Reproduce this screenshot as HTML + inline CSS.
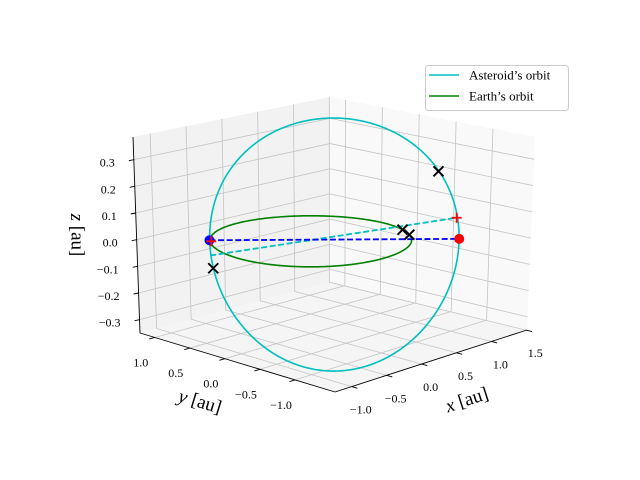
<!DOCTYPE html>
<html><head><meta charset="utf-8">
<style>
html,body{margin:0;padding:0;background:#fff;}
svg{display:block;font-family:"Liberation Serif",serif;}
text{font-family:"Liberation Serif",serif;}
</style></head>
<body>
<svg id="chart" width="640" height="480" viewBox="0 0 640 480" xmlns="http://www.w3.org/2000/svg">
<g id="panes"></g>
<g id="grid"></g>
<g id="axes"></g>
<g id="series"></g>
<g id="legend">
  <rect x="425.5" y="65.5" width="143" height="45" rx="3" fill="#fff" fill-opacity="0.8" stroke="#cccccc" stroke-width="1"/>
  <line x1="429" y1="75" x2="459" y2="75" stroke="#00bfbf" stroke-width="1.6"/>
  <text x="469" y="79.5" font-size="13">Asteroid’s orbit</text>
  <line x1="429" y1="96" x2="459" y2="96" stroke="#008000" stroke-width="1.6"/>
  <text x="469" y="100.5" font-size="13">Earth’s orbit</text>
</g>
</svg>
<script>
// ---- data ----
const xTicks = [-1.0, -0.5, 0.0, 0.5, 1.0, 1.5];
const yTicks = [-1.0, -0.5, 0.0, 0.5, 1.0];
const zTicks = [-0.3, -0.2, -0.1, 0.0, 0.1, 0.2, 0.3];
const xTickLabels = ["−1.0", "−0.5", "0.0", "0.5", "1.0", "1.5"];
const yTickLabels = ["−1.0", "−0.5", "0.0", "0.5", "1.0"];
const zTickLabels = ["−0.3", "−0.2", "−0.1", "0.0", "0.1", "0.2", "0.3"];
const xLim = [-1.24, 1.51];
const yLim = [-1.57, 1.21];
const zLim = [-0.35, 0.385];
const earthOrbit = [1.0];                  // radius (au)
const asteroidOrbit = [1.237, 0.188, 17.5]; // a (au), e, inclination (deg)
const asteroidPeriDir = [-0.7071, 0.7071];
const crossX = [1.347, 0.932, 0.835, -0.870];
const crossY = [-0.435, -0.360, -0.550, 0.510];
const crossZ = [0.200, 0.0, 0.0, -0.080];
const plusX = [1.165, -0.700];
const plusY = [-0.876, 0.700];
const plusZ = [0.061, -0.004];
const blueDot = [-0.712, 0.712, 0.0];
const redDot = [1.040, -1.040, 0.0];
const cyanDashStart = [-0.800, 0.620, -0.045];
const cyanDashEnd = [1.165, -0.876, 0.061];

// ---- projection (trilinear box mapping) ----
const C = {
  "000":[335,392],"100":[527,330],"010":[140,333],"110":[330,282],
  "001":[336,186],"101":[535,137],"011":[133,137],"111":[330,97]
};
function lerp(a,b,t){return [a[0]+(b[0]-a[0])*t,a[1]+(b[1]-a[1])*t];}
function P(x,y,z){
  const fx=(x-xLim[0])/(xLim[1]-xLim[0]);
  const fy=(y-yLim[0])/(yLim[1]-yLim[0]);
  const fz=(z-zLim[0])/(zLim[1]-zLim[0]);
  const b=lerp(lerp(C["000"],C["100"],fx),lerp(C["010"],C["110"],fx),fy);
  const t=lerp(lerp(C["001"],C["101"],fx),lerp(C["011"],C["111"],fx),fy);
  return lerp(b,t,fz);
}
const NS="http://www.w3.org/2000/svg";
function mk(parent,tag,attrs){const e=document.createElementNS(NS,tag);for(const k in attrs)e.setAttribute(k,attrs[k]);parent.appendChild(e);return e;}
function pts(list){return list.map(p=>p[0].toFixed(2)+","+p[1].toFixed(2)).join(" ");}

const panes=document.getElementById("panes");
const grid=document.getElementById("grid");
const axes=document.getElementById("axes");
const series=document.getElementById("series");
const [x0,x1]=xLim,[y0,y1]=yLim,[z0,z1]=zLim;

let e;
e=mk(panes,"polygon",{points:pts([P(x0,y1,z0),P(x1,y1,z0),P(x1,y1,z1),P(x0,y1,z1)]),fill:"#f2f2f2"});


e=mk(panes,"polygon",{points:pts([P(x1,y0,z0),P(x1,y1,z0),P(x1,y1,z1),P(x1,y0,z1)]),fill:"#f9f9f9"});


e=mk(panes,"polygon",{points:pts([P(x0,y0,z0),P(x1,y0,z0),P(x1,y1,z0),P(x0,y1,z0)]),fill:"#f5f5f5"});



function gl(a,b,name){
  const l=mk(grid,"line",{x1:a[0],y1:a[1],x2:b[0],y2:b[1],stroke:"#c4c4c4","stroke-width":0.8});
  
  
}
xTicks.forEach(x=>{gl(P(x,y1,z0),P(x,y1,z1),'grid-x-wall');gl(P(x,y0,z0),P(x,y1,z0),'grid-x-floor');});
yTicks.forEach(y=>{gl(P(x1,y,z0),P(x1,y,z1),'grid-y-wall');gl(P(x0,y,z0),P(x1,y,z0),'grid-y-floor');});
zTicks.forEach(z=>{gl(P(x0,y1,z),P(x1,y1,z),'grid-z-left');gl(P(x1,y1,z),P(x1,y0,z),'grid-z-right');});

function al(a,b,name){
  const l=mk(axes,"line",{x1:a[0],y1:a[1],x2:b[0],y2:b[1],stroke:"#000","stroke-width":0.9});
  
  
}
al(P(x0,y0,z0),P(x1,y0,z0),'x-axis-line');
al(P(x0,y0,z0),P(x0,y1,z0),'y-axis-line');
al(P(x0,y1,z0),P(x0,y1,z1),'z-axis-line');

function txt(x,y,s,size,anchor,name,rot){
  const t=mk(axes,"text",{x:x,y:y,"font-size":size,"text-anchor":anchor||"middle","dominant-baseline":"central"});
  if(rot)t.setAttribute("transform","rotate("+rot+" "+x+" "+y+")");
  t.textContent=s;
  
  
  return t;
}
xTicks.forEach((x,i)=>{
  const p=P(x,y0,z0),q=P(x,y0-0.08,z0);
  al(p,q,'x-tick');
  txt(p[0]+9,p[1]+23,xTickLabels[i],12,"middle",'x-tick-label');
});
yTicks.forEach((y,i)=>{
  const p=P(x0,y,z0),q=P(x0-0.08,y,z0);
  al(p,q,'y-tick');
  txt(p[0]-14,p[1]+25,yTickLabels[i],12,"middle",'y-tick-label');
});
zTicks.forEach((z,i)=>{
  const p=P(x0,y1,z);
  al(p,[p[0]-5,p[1]+1],'z-tick');
  txt(p[0]-19,p[1]+3,zTickLabels[i],12,"end",'z-tick-label');
});
(function(){
  let t=txt(467,400,"",19,"middle",'x-axis-title',-18);
  t.innerHTML='<tspan font-style="italic">x</tspan> [au]';
  t=txt(200,402,"",19,"middle",'y-axis-title',17);
  t.innerHTML='<tspan font-style="italic">y</tspan> [au]';
  t=txt(77,235,"",19,"middle",'z-axis-title',90);
  t.innerHTML='<tspan font-style="italic">z</tspan> [au]';
})();

// asteroid orbit
(function(){
  const a=asteroidOrbit[0],ecc=asteroidOrbit[1],inc=asteroidOrbit[2]*Math.PI/180;
  const u=[asteroidPeriDir[0],asteroidPeriDir[1],0];
  const w=[Math.cos(inc)*0.7071,Math.cos(inc)*0.7071,Math.sin(inc)];
  const list=[];
  for(let k=0;k<=360;k++){
    const th=k*Math.PI/180;
    const r=a*(1-ecc*ecc)/(1+ecc*Math.cos(th));
    const c=r*Math.cos(th),s=r*Math.sin(th);
    list.push(P(c*u[0]+s*w[0],c*u[1]+s*w[1],c*u[2]+s*w[2]));
  }
  const l=mk(series,"polyline",{points:pts(list),fill:"none",stroke:"#00bfbf","stroke-width":1.6});
  
  
})();
(function(){
  const R=earthOrbit[0],list=[];
  for(let k=0;k<=360;k++){const th=k*Math.PI/180;list.push(P(R*Math.cos(th),R*Math.sin(th),0));}
  const l=mk(series,"polyline",{points:pts(list),fill:"none",stroke:"#008000","stroke-width":1.6});
  
  
})();
(function(){
  let a=P(...cyanDashStart),b=P(...cyanDashEnd);
  let l=mk(series,"line",{x1:a[0],y1:a[1],x2:b[0],y2:b[1],stroke:"#00bfbf","stroke-width":1.8,"stroke-dasharray":"6,2.6"});
  
  
  a=P(...blueDot);b=P(...redDot);
  l=mk(series,"line",{x1:a[0],y1:a[1],x2:b[0],y2:b[1],stroke:"#0000ff","stroke-width":1.8,"stroke-dasharray":"6,2.6"});
  
  
})();
(function(){
  let p=P(...blueDot);
  let c=mk(series,"circle",{cx:p[0],cy:p[1],r:5,fill:"#0000ff"});
  
  
  p=P(...redDot);
  c=mk(series,"circle",{cx:p[0],cy:p[1],r:5,fill:"#ff0000"});
  
  
  for(let i=0;i<plusX.length;i++){
    const q=P(plusX[i],plusY[i],plusZ[i]),s=5;
    const g=mk(series,"path",{d:`M${q[0]-s},${q[1]}H${q[0]+s}M${q[0]},${q[1]-s}V${q[1]+s}`,stroke:"#ff0000","stroke-width":1.8,fill:"none"});
    
    
  }
  for(let i=0;i<crossX.length;i++){
    const q=P(crossX[i],crossY[i],crossZ[i]),s=5;
    const g=mk(series,"path",{d:`M${q[0]-s},${q[1]-s}L${q[0]+s},${q[1]+s}M${q[0]-s},${q[1]+s}L${q[0]+s},${q[1]-s}`,stroke:"#000","stroke-width":1.9,fill:"none"});
    
    
  }
})();
</script>
</body></html>
